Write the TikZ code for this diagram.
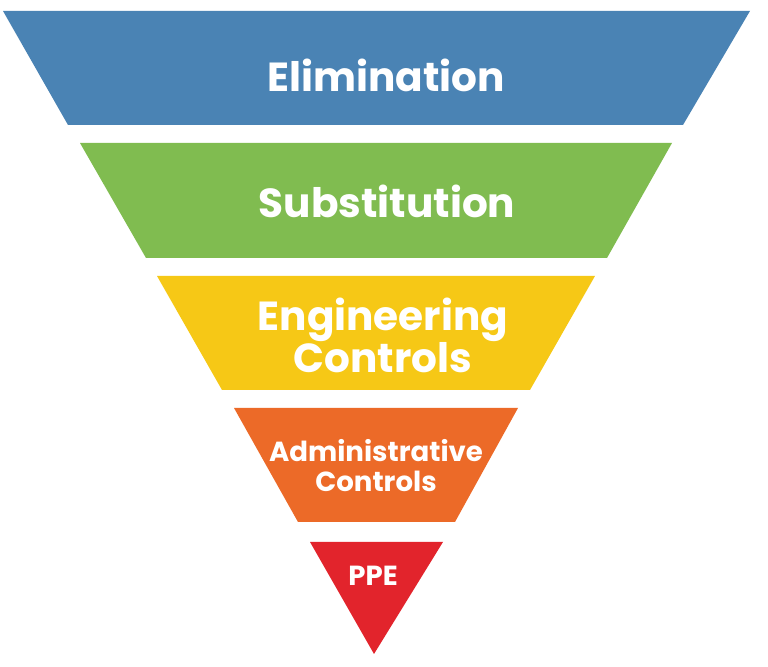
\documentclass[tikz,border=0pt]{standalone}
\usepackage{fontspec}
\setmainfont{Poppins}[Ligatures=NoCommon]
\usepackage{xcolor}
\usepackage{tikz}

\definecolor{elimblue}{RGB}{74,131,180}
\definecolor{substgreen}{RGB}{128,188,80}
\definecolor{enggold}{RGB}{246,200,22}
\definecolor{adminorange}{RGB}{236,106,40}
\definecolor{ppered}{RGB}{226,36,44}

\tikzset{
	lvl/.style={text=white, align=center, inner sep=0pt},
	biglvl/.style={lvl, font=\bfseries\fontsize{20.3}{21}\selectfont},
	smalllvl/.style={lvl, font=\bfseries\fontsize{13.8}{15}\selectfont},
}

\begin{document}
\begin{tikzpicture}[x=0.5pt,y=-0.5pt]
			\useasboundingbox (0,0) rectangle (768,667);
			\fill [white] (0,0) rectangle (768,667);
			
			\fill [elimblue] (3,11) -- (750,11) -- (683,125) -- (68,125) -- cycle;
			\node [biglvl] (elim) at (386,75) {Elimination};
			
			\fill [substgreen] (80,143) -- (672,143) -- (607,258) -- (146,258) -- cycle;
			\node [biglvl] (subst) at (387,201) {Substitution};
			
			\fill [enggold] (157,276) -- (595,276) -- (530,390) -- (222,390) -- cycle;
			\node [biglvl] (eng) at (383,335) {Engineering\\Controls};
			
			\fill [adminorange] (234,408) -- (518,408) -- (455,522) -- (298,522) -- cycle;
			\node [smalllvl] (admin) at (376,466) {Administrative\\Controls};
			
			\fill [ppered] (310,542) -- (443,542) -- (374,654) -- cycle;
			\node [smalllvl] (ppe) at (373,576) {PPE};
		\end{tikzpicture}
\end{document}
